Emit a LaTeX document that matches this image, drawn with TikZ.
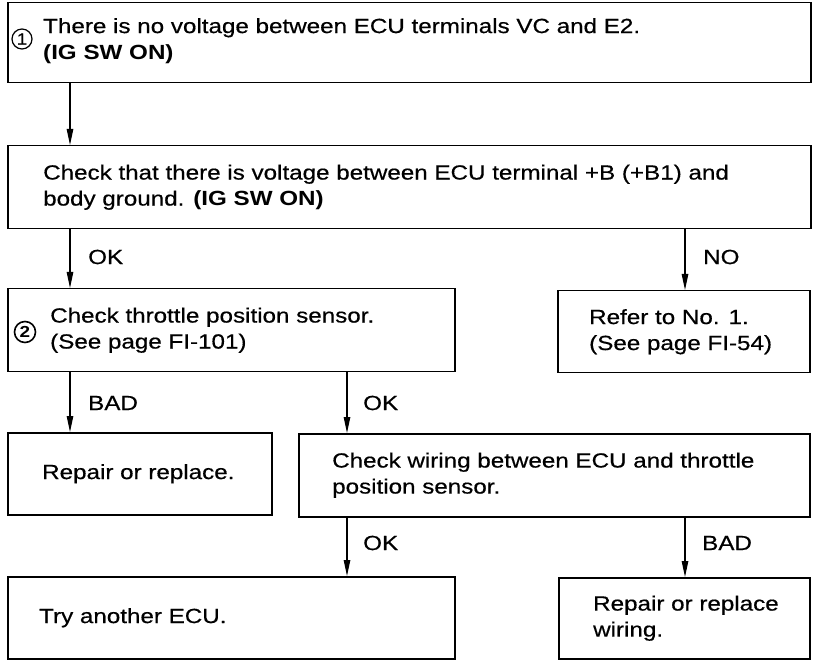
\documentclass[tikz,border=0pt]{standalone}
\usepackage{fontspec}
\setmainfont{Liberation Sans}[FakeStretch=1.18, UprightFeatures={FakeBold=0.5}]
\usetikzlibrary{arrows.meta}
\begin{document}
\begin{tikzpicture}[x=1pt,y=-1pt,
  box/.style={draw, line width=1.5pt, anchor=north west, inner sep=0pt},
  txt/.style={anchor=west, align=left, inner sep=0pt, font=\fontsize{20.5}{26}\selectfont},
  lbl/.style={anchor=west, inner sep=0pt, font=\fontsize{20.5}{26}\selectfont},
  circ/.style={draw, circle, line width=1.2pt, minimum size=20pt, inner sep=0pt, font=\fontsize{16}{16}\selectfont},
  arr/.style={line width=1.1pt, -{Triangle[length=16pt,width=6.5pt]}}]
\useasboundingbox (0,0) rectangle (817,660);
% boxes
\node[box, minimum width=803pt, minimum height=80pt] (b1) at (7,2) {};
\node[box, minimum width=803pt, minimum height=83pt] (b2) at (7,145) {};
\node[box, minimum width=447pt, minimum height=83pt] (b3) at (7,288) {};
\node[box, minimum width=252pt, minimum height=82pt] (b4) at (557,290) {};
\node[box, minimum width=264pt, minimum height=82pt] (b5) at (7,432) {};
\node[box, minimum width=511pt, minimum height=83pt] (b6) at (298,433) {};
\node[box, minimum width=447pt, minimum height=82pt] (b7) at (7,576) {};
\node[box, minimum width=251pt, minimum height=81pt] (b8) at (558,577) {};
% texts
\node[txt] (t1) at ([xshift=36pt,yshift=2pt]b1.west) {There is no voltage between ECU terminals VC and E2.\\\textbf{(IG SW ON)}};
\node[txt] (t2) at ([xshift=36pt]b2.west) {Check that there is voltage between ECU terminal +B (+B1) and\\body ground. \textbf{(IG SW ON)}};
\node[txt] (t3) at ([xshift=43pt]b3.west) {Check throttle position sensor.\\(See page FI-101)};
\node[txt] (t4) at ([xshift=32pt]b4.west) {Refer to No. 1.\\(See page FI-54)};
\node[txt] (t5) at ([xshift=35pt]b5.west) {Repair or replace.};
\node[txt] (t6) at ([xshift=34pt]b6.west) {Check wiring between ECU and throttle\\position sensor.};
\node[txt] (t7) at ([xshift=32pt]b7.west) {Try another ECU.};
\node[txt] (t8) at ([xshift=35pt]b8.west) {Repair or replace\\wiring.};
% circled numbers
\node[circ] (c1) at (22,39) {1};
\node[circ, line width=1.6pt, minimum size=21pt, font=\fontsize{16}{16}\selectfont\bfseries] (c2) at (25,332) {2};
% connector columns
\coordinate (xa) at (70,0);
\coordinate (xb) at (347,0);
\coordinate (xc) at (685,0);
% connectors
\draw[arr] (b1.south -| xa) -- (b2.north -| xa);
\draw[arr] (b2.south -| xa) -- (b3.north -| xa);
\draw[arr] (b2.south -| xc) -- (b4.north -| xc);
\draw[arr] (b3.south -| xa) -- (b5.north -| xa);
\draw[arr] (b3.south -| xb) -- (b6.north -| xb);
\draw[arr] (b6.south -| xb) -- (b7.north -| xb);
\draw[arr] (b6.south -| xc) -- (b8.north -| xc);
% labels
\node[lbl] (l1) at (88,257) {OK};
\node[lbl] (l2) at (703,257) {NO};
\node[lbl] (l3) at (88,403) {BAD};
\node[lbl] (l4) at (363,403) {OK};
\node[lbl] (l5) at (363,543) {OK};
\node[lbl] (l6) at (702,543) {BAD};
\end{tikzpicture}
\end{document}
